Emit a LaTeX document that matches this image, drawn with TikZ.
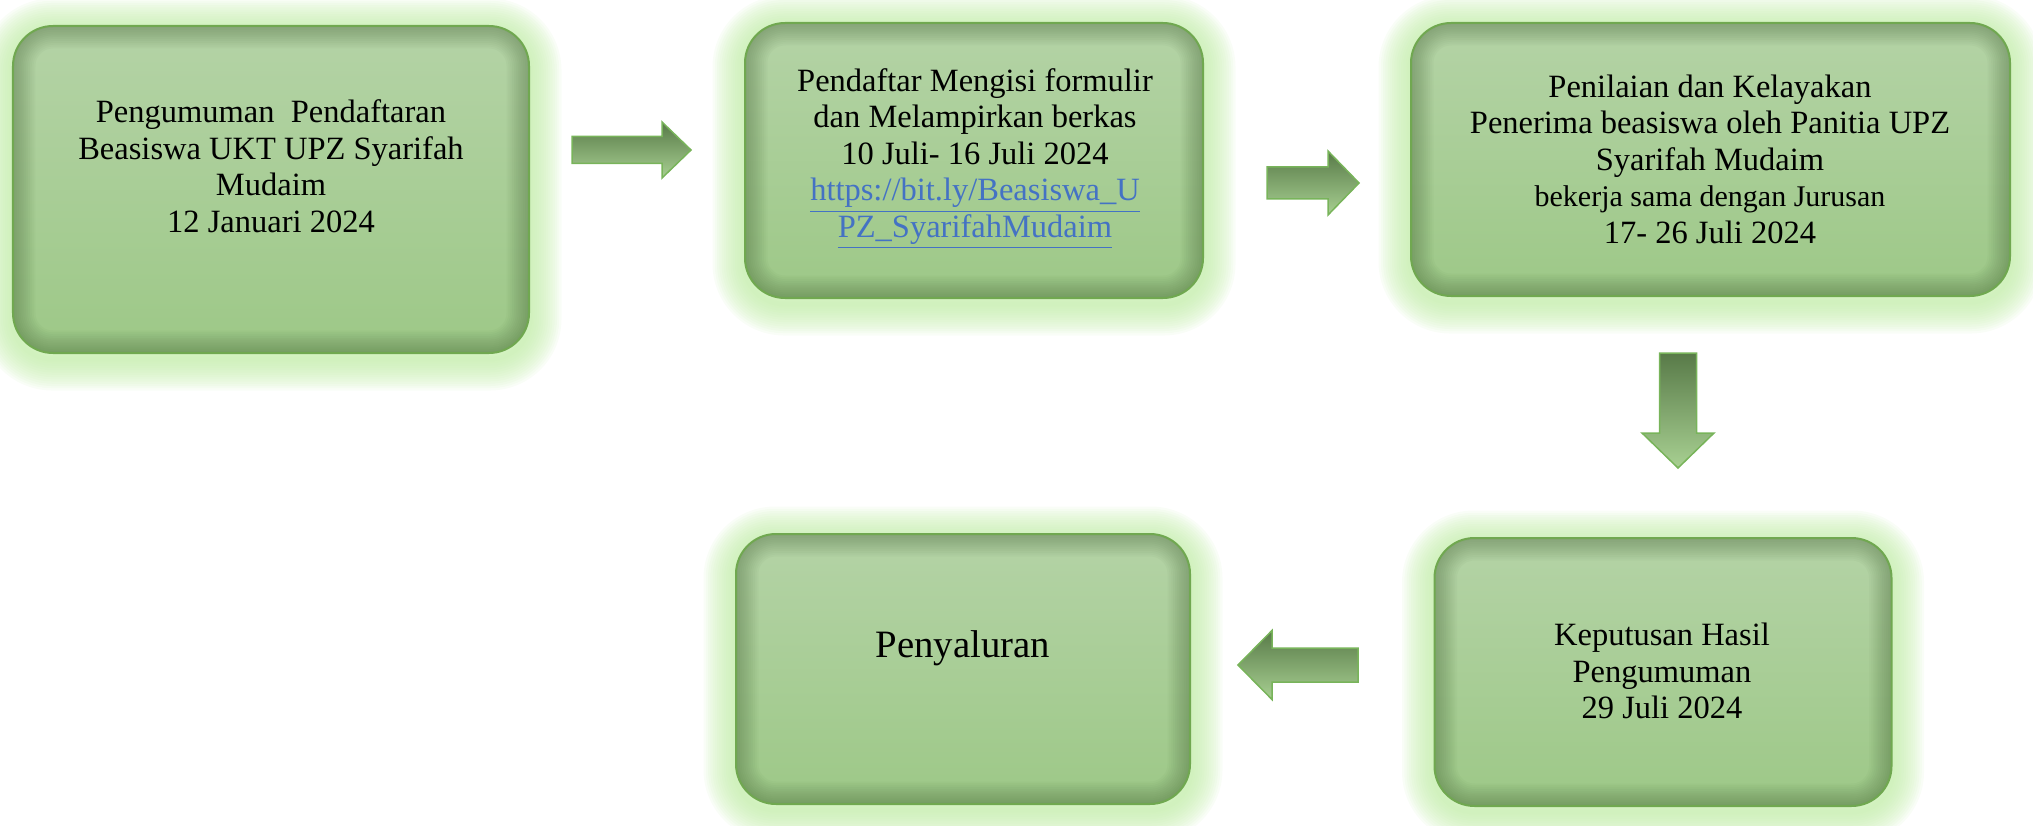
\documentclass[tikz,border=0pt]{standalone}
\usepackage{fontspec}
\setmainfont{Liberation Serif}
\usepackage{tikz}
\usetikzlibrary{backgrounds}

\definecolor{boxtop}{RGB}{180,211,166}
\definecolor{boxbottom}{RGB}{157,200,135}
\definecolor{boxline}{RGB}{112,168,80}
\definecolor{glowgreen}{RGB}{192,236,166}
\definecolor{innershade}{RGB}{62,92,48}
\definecolor{arrowdark}{RGB}{88,122,72}
\definecolor{arrowlight}{RGB}{168,208,146}
\definecolor{arrowline}{RGB}{120,180,90}
\definecolor{linkblue}{RGB}{68,114,196}

\tikzset{
  stepbox/.style={rectangle, rounded corners=16pt, draw=boxline, line width=0.8pt,
    top color=boxtop, bottom color=boxbottom, inner sep=0pt,
    path picture={
      \foreach \w in {1,2,...,12}
        \draw[innershade, line width=1.5*\w pt, opacity=0.035, rounded corners=16pt]
          (path picture bounding box.south west) rectangle (path picture bounding box.north east);
    }},
  steptext/.style={align=center, inner sep=0pt, font=\fontsize{13}{14.6}\selectfont},
  blockarrow/.style={draw=arrowline, line width=0.6pt, top color=arrowdark, bottom color=arrowlight}
}

\begin{document}
\begin{tikzpicture}[x=0.4pt,y=-0.4pt]
\useasboundingbox (0,0) rectangle (2033,826);

% boxes
\node[stepbox, minimum width=206.4pt, minimum height=130.8pt] (b1) at (271,189.5) {};
\node[stepbox, minimum width=183.2pt, minimum height=110pt] (b2) at (974,160.5) {};
\node[stepbox, minimum width=239.6pt, minimum height=109.2pt] (b3) at (1710.5,159.5) {};
\node[stepbox, minimum width=182.8pt, minimum height=107.2pt] (b4) at (1663,672) {};
\node[stepbox, minimum width=181.6pt, minimum height=108pt] (b5) at (963,669) {};

% glow
\begin{scope}[on background layer]
  \foreach \n in {b1,b2,b3,b4,b5}
    \foreach \w in {1,2,...,14}
      \draw[glowgreen, line width=1.8*\w pt, opacity=0.09, rounded corners=16pt]
        ([yshift=-2pt]\n.south west) rectangle ([yshift=-2pt]\n.north east);
\end{scope}

% texts
\node[steptext] (t1) at (271,166) {Pengumuman\ \ Pendaftaran\\Beasiswa UKT UPZ Syarifah\\Mudaim\\12 Januari 2024};
\node[steptext] (t2) at (975,159) {Pendaftar Mengisi formulir\\dan Melampirkan berkas\\10 Juli- 16 Juli 2024\\
  \textcolor{linkblue}{\underline{https://bit.ly/Beasiswa\_U}}\\\textcolor{linkblue}{\underline{PZ\_SyarifahMudaim}}};
\node[steptext] (t3) at (1710,159) {Penilaian dan Kelayakan\\Penerima beasiswa oleh Panitia UPZ\\Syarifah Mudaim\\
  {\fontsize{12}{14.6}\selectfont bekerja sama dengan Jurusan}\\17- 26 Juli 2024};
\node[steptext] (t4) at (1662,671) {Keputusan Hasil\\Pengumuman\\29 Juli 2024};
\node[steptext, font=\fontsize{15.5}{18}\selectfont] (t5) at (963,648) {Penyaluran};

% arrows
\coordinate (a1) at (572,150);
\coordinate (a2) at (1267,183);
\coordinate (a3) at (1678,353);
\coordinate (a4) at (1358,665);
\filldraw[blockarrow] (a1) ++(0,-13.5) -- ++(90,0) -- ++(0,-14.5) -- ++(29,28) -- ++(-29,28) -- ++(0,-14.5) -- ++(-90,0) -- cycle;
\filldraw[blockarrow] (a2) ++(0,-16) -- ++(61,0) -- ++(0,-16) -- ++(31,32) -- ++(-31,32) -- ++(0,-16) -- ++(-61,0) -- cycle;
\filldraw[blockarrow] (a3) ++(-18.5,0) -- ++(0,80) -- ++(-17.5,0) -- ++(36,35) -- ++(36,-35) -- ++(-17.5,0) -- ++(0,-80) -- cycle;
\filldraw[blockarrow] (a4) ++(0,-17) -- ++(-86,0) -- ++(0,-17.5) -- ++(-34,34.5) -- ++(34,34.5) -- ++(0,-17.5) -- ++(86,0) -- cycle;
\end{tikzpicture}
\end{document}
